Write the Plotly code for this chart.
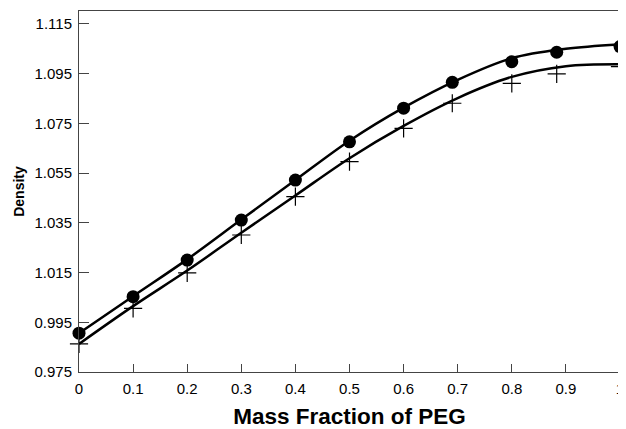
import plotly.graph_objects as go

# measured points
x_circ = [0, 0.1, 0.2, 0.3, 0.4, 0.5, 0.6, 0.69, 0.8, 0.883, 1.0]
y_circ = [0.9906, 1.0053, 1.0200, 1.0361, 1.0522, 1.0676, 1.0811, 1.0915, 1.0998, 1.1036, 1.1059]

x_cross = [0, 0.1, 0.2, 0.3, 0.4, 0.5, 0.6, 0.69, 0.8, 0.883, 1.0]
y_cross = [0.9863, 1.0006, 1.0149, 1.0301, 1.0455, 1.0596, 1.0730, 1.0831, 1.0911, 1.0949, 1.0978]

# fitted curves
x_fit = [0, 0.1, 0.2, 0.3, 0.4, 0.5, 0.6, 0.7, 0.8, 0.9, 1.0]
y_fit_upper = [0.9906, 1.0055, 1.0203, 1.0363, 1.0522, 1.0680, 1.0813, 1.0925, 1.1012, 1.1050, 1.1068]
y_fit_lower = [0.9863, 1.0015, 1.0158, 1.0310, 1.0460, 1.0610, 1.0740, 1.0852, 1.0937, 1.0980, 1.0988]

y_ticks = [0.975, 0.995, 1.015, 1.035, 1.055, 1.075, 1.095, 1.115]
x_ticks = [0, 0.1, 0.2, 0.3, 0.4, 0.5, 0.6, 0.7, 0.8, 0.9, 1]
x_tick_text = ["0", "0.1", "0.2", "0.3", "0.4", "0.5", "0.6", "0.7", "0.8", "0.9", "1"]

FONT = "Liberation Sans, Arial, Helvetica, sans-serif"

fig = go.Figure()
fig.add_trace(go.Scatter(x=x_fit, y=y_fit_upper, mode="lines",
                         line=dict(color="black", width=2.5, shape="spline", smoothing=1.0),
                         showlegend=False, cliponaxis=False))
fig.add_trace(go.Scatter(x=x_fit, y=y_fit_lower, mode="lines",
                         line=dict(color="black", width=2.5, shape="spline", smoothing=1.0),
                         showlegend=False, cliponaxis=False))
fig.add_trace(go.Scatter(x=x_cross, y=y_cross, mode="markers",
                         marker=dict(symbol="cross-thin", size=13, line=dict(color="black", width=1.2)),
                         showlegend=False, cliponaxis=False))
fig.add_trace(go.Scatter(x=x_circ, y=y_circ, mode="markers",
                         marker=dict(symbol="circle", size=13, color="black"),
                         showlegend=False, cliponaxis=False))

# page body has an 8px default margin, so the figure is offset by 8px
fig.update_layout(
    width=618, height=421,
    margin=dict(l=71, r=6, t=3, b=57, autoexpand=False),
    paper_bgcolor="white", plot_bgcolor="white",
    font=dict(family=FONT, color="black"),
    xaxis=dict(range=[0, 1], tickvals=x_ticks, ticktext=x_tick_text,
               ticks="inside", ticklen=8, tickcolor="#444", tickwidth=1,
               showline=True, linecolor="#444", linewidth=1, mirror=True,
               showgrid=False, zeroline=False, automargin=False,
               ticklabelstandoff=3,
               tickfont=dict(size=15, family=FONT),
               title=dict(text="<b>Mass Fraction of PEG</b>", font=dict(size=22.5, family=FONT), standoff=17)),
    yaxis=dict(range=[0.975, 1.1202], tickvals=y_ticks, tickformat=".3f",
               ticks="inside", ticklen=10, tickcolor="#444", tickwidth=1,
               showline=True, linecolor="#444", linewidth=1, mirror=True,
               showgrid=False, zeroline=False, automargin=False,
               ticklabelstandoff=3,
               tickfont=dict(size=15, family=FONT),
               title=dict(text="<b>Density</b>", font=dict(size=14, family=FONT), standoff=6)),
)

fig.write_html("out.html")
